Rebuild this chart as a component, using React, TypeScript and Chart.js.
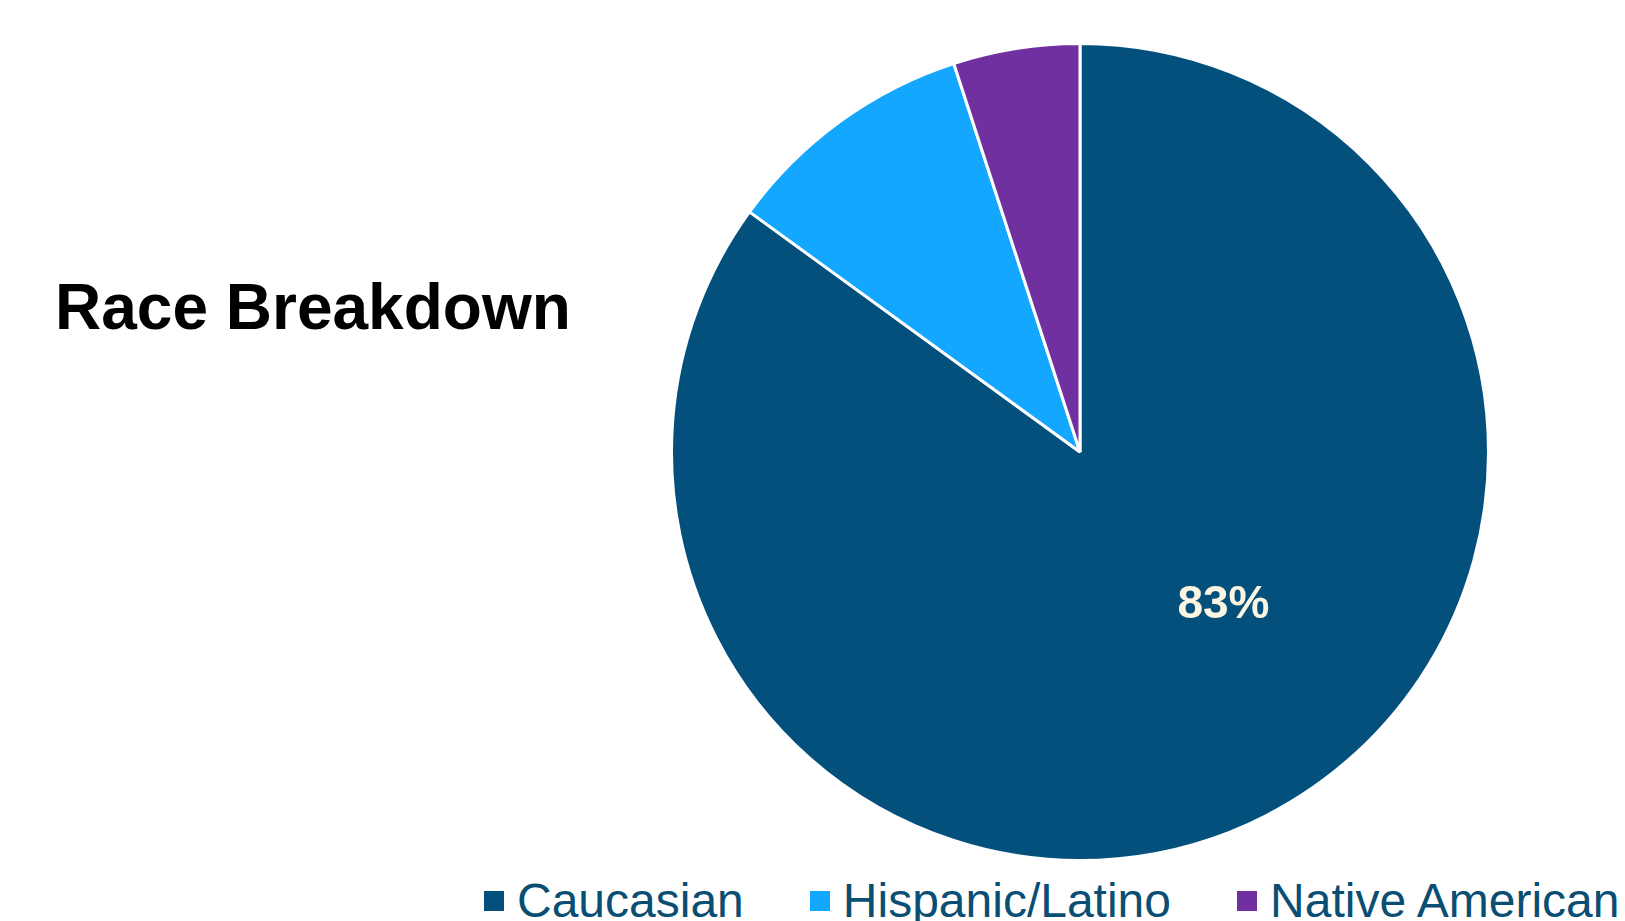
import React, { useEffect, useRef } from "react";
import { Chart, registerables } from "chart.js";

Chart.register(...registerables);

// ---- data ----
const title = "Race Breakdown";
const categories = ["Caucasian", "Hispanic/Latino", "Native American"];
const values = [85, 10, 5];
const valueLabels = ["83%", "", ""];
const colors = ["#03507D", "#13A7FF", "#7030A0"];

const FONT = "'Liberation Sans', Arial, Helvetica, sans-serif";

const sliceLabelPlugin = {
  id: "sliceLabels",
  afterDatasetsDraw(chart: any) {
    const meta = chart.getDatasetMeta(0);
    const ctx = chart.ctx;
    meta.data.forEach((arc: any, i: number) => {
      const text = valueLabels[i];
      if (!text) return;
      const { x, y, startAngle, endAngle, outerRadius } = arc.getProps(
        ["x", "y", "startAngle", "endAngle", "outerRadius"],
        true
      );
      const a = startAngle + (endAngle - startAngle) * 0.4472;
      const r = outerRadius * 0.5135;
      ctx.save();
      ctx.font = `bold 46px ${FONT}`;
      ctx.fillStyle = "#FBF5E2";
      ctx.textAlign = "center";
      ctx.textBaseline = "middle";
      ctx.fillText(text, x + Math.cos(a) * r, y + Math.sin(a) * r);
      ctx.restore();
    });
  },
};

function PieChart() {
  const ref = useRef<HTMLCanvasElement | null>(null);
  useEffect(() => {
    if (!ref.current) return;
    const chart = new Chart(ref.current, {
      type: "pie",
      data: {
        labels: categories,
        datasets: [
          {
            data: values,
            backgroundColor: colors,
            borderColor: "#FFFFFF",
            borderWidth: 3,
            hoverOffset: 0,
          },
        ],
      },
      options: {
        animation: false,
        responsive: true,
        maintainAspectRatio: false,
        layout: { padding: 0 },
        plugins: {
          legend: { display: false },
          tooltip: { enabled: false },
          title: { display: false },
        },
      },
      plugins: [sliceLabelPlugin],
    });
    return () => chart.destroy();
  }, []);
  return <canvas ref={ref} />;
}

export default function App() {
  return (
    <div
      style={{
        position: "fixed",
        left: 0,
        top: 0,
        width: 1625,
        height: 921,
        overflow: "hidden",
        background: "#FFFFFF",
        fontFamily: FONT,
      }}
    >
      <div
        style={{
          position: "absolute",
          left: 55,
          top: 275,
          fontSize: 64,
          lineHeight: "64px",
          fontWeight: "bold",
          color: "#000000",
          whiteSpace: "nowrap",
        }}
      >
        {title}
      </div>
      <div
        style={{
          position: "absolute",
          left: 670,
          top: 42,
          width: 820,
          height: 820,
        }}
      >
        <PieChart />
      </div>
      <div
        style={{
          position: "absolute",
          left: 484,
          top: 877,
          display: "flex",
          alignItems: "center",
          gap: 66,
          whiteSpace: "nowrap",
        }}
      >
        {categories.map((c, i) => (
          <div key={c} style={{ display: "flex", alignItems: "center", gap: 13 }}>
            <div style={{ width: 20, height: 20, background: colors[i] }} />
            <span style={{ fontSize: 48, lineHeight: "48px", color: "#0A4E73" }}>{c}</span>
          </div>
        ))}
      </div>
    </div>
  );
}
